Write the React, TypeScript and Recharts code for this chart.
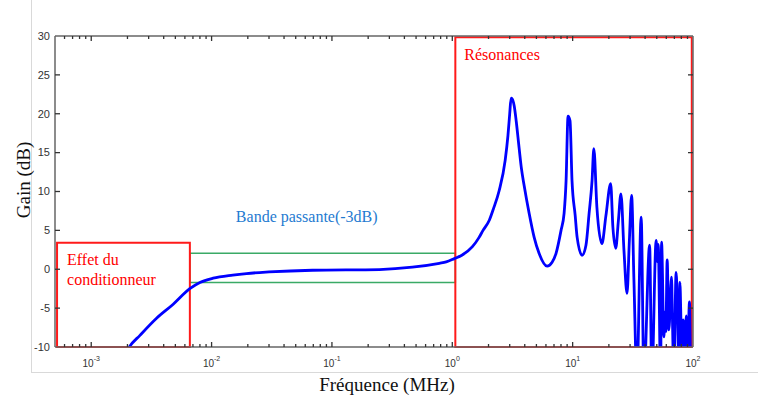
import { LineChart, Line, XAxis, YAxis, ReferenceArea } from "recharts";

const freqMHz = [
  1.9e-3, 2.07e-3, 2.54e-3, 3.49e-3, 4.8e-3, 6.59e-3, 8.0e-3, 1.03e-2, 1.5e-2, 1.95e-2,
  3.0e-2, 6.9e-2, 0.248, 0.466, 0.78, 0.89, 1.04, 1.2, 1.47, 1.67,
  1.8, 2.03, 2.2, 2.45, 2.75, 2.9, 3.0, 3.08, 3.15, 3.27,
  3.4, 3.59, 3.75, 3.95, 4.35, 4.79, 5.26, 6.13, 6.75, 7.28,
  8.01, 8.49, 8.82, 9.16, 9.51, 9.88, 10.5, 10.9, 11.97, 12.9,
  13.7, 14.5, 15.0, 15.9, 17.5, 18.9, 20.7, 21.6, 22.8, 24.0,
  25.2, 26.7, 28.3, 29.6, 30.9, 32.3, 34.2, 37.1, 39.1, 43.6,
  45.5, 49.4, 50.5, 51.4, 53.8, 54.8, 57.3, 58.5, 59.5, 61.0,
  63.0, 66.3, 67.5, 69.3, 72.4, 74.5, 76.3, 77.8, 79.5, 81.2,
  83.0, 85.5, 88.0, 90.0, 93.5, 96.0, 99.0,
];
const gainDb = [
  -11, -10, -8.5, -6.3, -4.5, -2.5, -1.7, -1.15, -0.75, -0.55,
  -0.35, -0.13, -0.04, 0.26, 0.77, 0.94, 1.37, 1.8, 2.9, 4.1,
  5.0, 6.3, 7.8, 10.1, 14.0, 17.2, 20.0, 22.0, 21.9, 21.0,
  19.0, 15.6, 13.0, 10.8, 7.2, 4.1, 2.05, 0.4, 0.9, 2.05,
  5.0, 7.2, 11.4, 19.7, 19.1, 11.4, 6.9, 4.1, 1.8, 3.1,
  7.2, 11.4, 15.5, 8.0, 3.3, 6.9, 11.0, 5.4, 2.7, 6.3,
  9.7, 2.4, -3.1, 3.7, 9.5, -1.4, -14, 6.7, -14, 3.1,
  -14, 3.7, 1.0, 3.2, -14, 3.5, -8.7, -5.5, -8.0, 1.2,
  -7.8, -1.0, -6.5, -14, -0.4, -6.0, -12, -1.7, -7.0, -14,
  -6.5, -10.5, -6.0, -12, -4.2, -14, -14,
];

const xMajorTicks = [1e-3, 1e-2, 1e-1, 1, 10, 100];
const yTicks = [-10, -5, 0, 5, 10, 15, 20, 25, 30];

const X_MIN = 5e-4;
const X_MAX = 100;
const Y_MIN = -10;
const Y_MAX = 30;

const data = freqMHz.map((f, i) => ({ f, gain: gainDb[i] }));

// decade + minor (2..9) tick values for the log axis
const xAllTicks: number[] = [];
for (let d = -4; d <= 2; d++) {
  for (let k = 1; k <= 9; k++) {
    const v = k * Math.pow(10, d);
    if (v > X_MIN * 1.001 && v <= X_MAX * 1.0001) xAllTicks.push(v);
  }
}
const isMajor = (v: number) => xMajorTicks.some((m) => Math.abs(v / m - 1) < 1e-6);

const serif = "'Liberation Serif', 'Times New Roman', serif";
const sans = "'Liberation Sans', Arial, sans-serif";
const tickColor = "#333";

// bottom axis: inward tick mark + "10^n" label for decades
const BottomTick = (props: any) => {
  const { x, y, payload } = props;
  const major = isMajor(payload.value);
  const len = major ? 5 : 3;
  return (
    <g>
      {payload.value < X_MAX * 0.999 && (
        <line x1={x} x2={x} y1={y} y2={y - len} stroke={tickColor} strokeWidth={1.3} />
      )}
      {major && (
        <text x={x} y={y + 20} textAnchor="middle" fontSize={10} fill="#333" fontFamily={sans}>
          10
          <tspan dy={-6} fontSize={7}>
            {Math.round(Math.log10(payload.value))}
          </tspan>
        </text>
      )}
    </g>
  );
};

const TopTick = (props: any) => {
  const { x, y, payload } = props;
  if (payload.value >= X_MAX * 0.999) return <g />;
  const len = isMajor(payload.value) ? 5 : 3;
  return <line x1={x} x2={x} y1={y} y2={y + len} stroke={tickColor} strokeWidth={1.3} />;
};

const LeftTick = (props: any) => {
  const { x, y, payload } = props;
  const edge = payload.value === Y_MIN || payload.value === Y_MAX;
  return (
    <g>
      {!edge && <line x1={x + 5} x2={x + 10} y1={y} y2={y} stroke={tickColor} strokeWidth={1.3} />}
      <text x={x} y={y} dy="0.35em" textAnchor="end" fontSize={11} fill="#333" fontFamily={sans}>
        {payload.value}
      </text>
    </g>
  );
};

const RightTick = (props: any) => {
  const { x, y, payload } = props;
  if (payload.value === Y_MIN || payload.value === Y_MAX) return <g />;
  return <line x1={x} x2={x - 5} y1={y} y2={y} stroke={tickColor} strokeWidth={1.3} />;
};

const BoxText = (props: any) => {
  const vb = props.viewBox || {};
  const { lines, dx, dy, color, gap } = props;
  return (
    <text x={vb.x + dx} y={vb.y + dy} fill={color} fontSize={16} fontFamily={serif}>
      {lines.map((s: string, i: number) => (
        <tspan key={i} x={vb.x + dx} dy={i === 0 ? 0 : gap}>
          {s}
        </tspan>
      ))}
    </text>
  );
};

export default function App() {
  return (
    <div style={{ position: "absolute", left: 0, top: 0, width: 758, height: 401, background: "#fff" }}>
      <div style={{ position: "absolute", left: 31, top: 0, width: 1, height: 372, background: "#d9d9d9" }} />
      <div style={{ position: "absolute", left: 31, top: 372, width: 727, height: 1, background: "#d9d9d9" }} />
      <LineChart
        width={758}
        height={401}
        data={data}
        margin={{ top: 35, right: 64, left: 0, bottom: 0 }}
        style={{ position: "absolute", left: 0, top: 0 }}
      >
        <XAxis
          dataKey="f"
          type="number"
          scale="log"
          domain={[X_MIN, X_MAX]}
          allowDataOverflow
          ticks={xAllTicks}
          tick={<BottomTick />}
          tickLine={false}
          axisLine={{ stroke: "#666", strokeWidth: 1.5 }}
          tickSize={0}
          tickMargin={0}
          height={54}
          interval={0}
          minTickGap={0}
        />
        <XAxis
          xAxisId="top"
          orientation="top"
          dataKey="f"
          type="number"
          scale="log"
          domain={[X_MIN, X_MAX]}
          allowDataOverflow
          ticks={xAllTicks}
          tick={<TopTick />}
          tickLine={false}
          axisLine={{ stroke: "#666", strokeWidth: 1.5 }}
          tickSize={0}
          tickMargin={0}
          height={1}
          interval={0}
          minTickGap={0}
        />
        <YAxis
          type="number"
          domain={[Y_MIN, Y_MAX]}
          allowDataOverflow
          ticks={yTicks}
          tick={<LeftTick />}
          tickLine={false}
          axisLine={{ stroke: "#666", strokeWidth: 1.5 }}
          tickSize={0}
          tickMargin={5}
          width={55}
          interval={0}
        />
        <YAxis
          yAxisId="right"
          orientation="right"
          type="number"
          domain={[Y_MIN, Y_MAX]}
          allowDataOverflow
          ticks={yTicks}
          tick={<RightTick />}
          tickLine={false}
          axisLine={{ stroke: "#666", strokeWidth: 1.5 }}
          tickSize={0}
          tickMargin={0}
          width={1}
          interval={0}
        />

        <ReferenceArea
          x1={6.6e-3}
          x2={1.06}
          y1={-1.7}
          y2={2.05}
          fill="none"
          stroke="#3aaa66"
          strokeWidth={1.5}
          label={<BoxText lines={["Bande passante(-3dB)"]} dx={46} dy={-31} color="#1f7bd1" gap={0} />}
        />
        <ReferenceArea
          x1={5.2e-4}
          x2={6.6e-3}
          y1={Y_MIN}
          y2={3.4}
          fill="none"
          stroke="#ff1a1a"
          strokeWidth={2}
          label={<BoxText lines={["Effet du", "conditionneur"]} dx={10} dy={22} color="#ff0000" gap={20} />}
        />
        <ReferenceArea
          x1={1.06}
          x2={97.7}
          y1={Y_MIN}
          y2={29.85}
          fill="none"
          stroke="#ff1a1a"
          strokeWidth={2}
          label={<BoxText lines={["Résonances"]} dx={9} dy={23} color="#ff0000" gap={0} />}
        />

        <Line
          dataKey="gain"
          type="monotone"
          stroke="#0000ff"
          strokeWidth={2.8}
          dot={false}
          isAnimationActive={false}
        />

        <text x={23} y={180} transform="rotate(-90 23 180)" textAnchor="middle" dominantBaseline="central" fontSize={19} fontFamily={serif} fill="#111">
          Gain (dB)
        </text>
        <text x={387} y={384} textAnchor="middle" dominantBaseline="central" fontSize={19} fontFamily={serif} fill="#111">
          Fréquence (MHz)
        </text>
      </LineChart>
    </div>
  );
}
